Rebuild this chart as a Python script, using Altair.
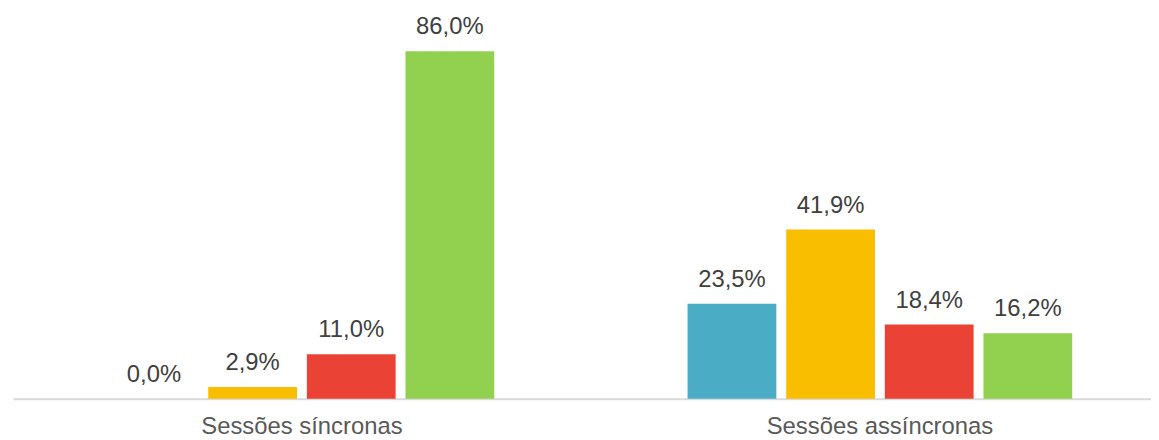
import altair as alt
import pandas as pd

groups = ["Sessões síncronas", "Sessões assíncronas"]
categories = ["Categoria 1", "Categoria 2", "Categoria 3", "Categoria 4"]
colors = ["#4BACC6", "#F9BE00", "#EA4335", "#92D050"]
sync_values = [0.0, 2.9, 11.0, 86.0]
async_values = [23.5, 41.9, 18.4, 16.2]

rows = []
for g, vals in zip(groups, [sync_values, async_values]):
    for c, v in zip(categories, vals):
        rows.append({"group": g, "cat": c, "value": v,
                     "label": f"{v:.1f}%".replace(".", ",")})
df = pd.DataFrame(rows)

FONT = "Liberation Sans"

base = alt.Chart(df).encode(
    x=alt.X("group:N", sort=groups, title=None,
            scale=alt.Scale(paddingInner=0, paddingOuter=0, range=[3, 1167]),
            axis=alt.Axis(labelAngle=0, labelFontSize=24, labelFont=FONT,
                          labelColor="#595959", ticks=False, labelPadding=16,
                          labelLimit=0, domainColor="#D9D9D9", domainWidth=2)),
    xOffset=alt.XOffset("cat:N", sort=categories,
                        scale=alt.Scale(paddingInner=0.1, paddingOuter=0.98)),
    y=alt.Y("value:Q", scale=alt.Scale(domain=[0, 96.3]), axis=None),
)

bars = base.mark_bar().encode(
    color=alt.Color("cat:N", sort=categories,
                    scale=alt.Scale(domain=categories, range=colors), legend=None)
)

text = base.mark_text(dy=-17, baseline="alphabetic", fontSize=24, font=FONT,
                      color="#404040").encode(text="label:N")

chart = alt.layer(bars, text).properties(
    width=1149, height=392,
    autosize=alt.AutoSizeParams(type="none"),
    padding={"left": 2, "top": 0, "right": 0, "bottom": 40},
).configure_view(stroke=None).configure_axis(grid=False)

chart.save("out.html", embed_options={"renderer": "svg", "actions": False})
